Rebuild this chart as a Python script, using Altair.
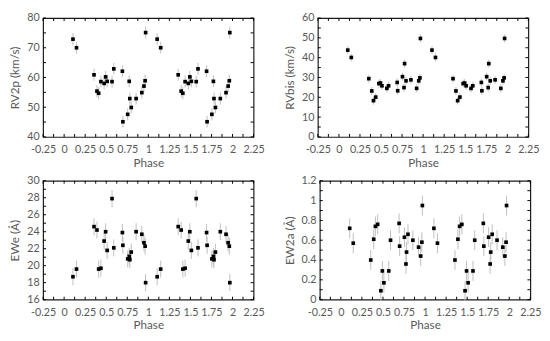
import altair as alt
import pandas as pd

# Orbital phase of each observation (first cycle); the chart repeats it over two cycles
PHASE = [0.105, 0.147, 0.355, 0.39, 0.41, 0.437, 0.475, 0.493, 0.511, 0.569, 0.59,
         0.692, 0.698, 0.755, 0.773, 0.78, 0.797, 0.855, 0.923, 0.948, 0.962, 0.968]

RV2P = [72.9, 70.0, 60.9, 55.4, 54.7, 58.6, 58.0, 60.2, 58.7, 58.6, 62.9,
        62.1, 45.1, 47.6, 58.7, 52.9, 49.9, 52.9, 54.9, 57.1, 58.9, 75.1]
RVBIS = [43.8, 40.1, 29.4, 23.2, 18.3, 20.1, 26.9, 27.2, 25.8, 24.5, 25.8,
         27.5, 23.3, 30.4, 24.9, 37.0, 28.3, 28.8, 24.5, 28.3, 29.8, 49.7]
EWE = [18.7, 19.6, 24.6, 24.2, 19.6, 19.7, 22.9, 24.0, 21.8, 27.9, 22.1,
       23.9, 22.4, 20.8, 21.1, 20.7, 21.6, 24.0, 23.7, 22.7, 22.3, 18.0]
EW2A = [0.72, 0.57, 0.40, 0.61, 0.74, 0.76, 0.09, 0.29, 0.17, 0.29, 0.60,
        0.77, 0.54, 0.63, 0.36, 0.48, 0.66, 0.60, 0.53, 0.44, 0.58, 0.95]

ERR_RV2P = 2.0
ERR_RVBIS = 2.0
ERR_EWE = 1.0
ERR_EW2A = 0.1

X_LABELS = [-0.25, 0, 0.25, 0.5, 0.75, 1, 1.25, 1.5, 1.75, 2, 2.25]
X_TICKS = [-0.25, -0.125, 0, 0.125, 0.25, 0.375, 0.5, 0.625, 0.75, 0.875, 1,
           1.125, 1.25, 1.375, 1.5, 1.625, 1.75, 1.875, 2, 2.125, 2.25]

Y_RV2P_LABELS = [40, 50, 60, 70, 80]
Y_RV2P_TICKS = [40, 45, 50, 55, 60, 65, 70, 75, 80]
Y_RVBIS_LABELS = [0, 10, 20, 30, 40, 50, 60]
Y_RVBIS_TICKS = [0, 5, 10, 15, 20, 25, 30, 35, 40, 45, 50, 55, 60]
Y_EWE_LABELS = [16, 18, 20, 22, 24, 26, 28, 30]
Y_EWE_TICKS = [16, 17, 18, 19, 20, 21, 22, 23, 24, 25, 26, 27, 28, 29, 30]
Y_EW2A_LABELS = [0, 0.2, 0.4, 0.6, 0.8, 1, 1.2]
Y_EW2A_TICKS = [0, 0.1, 0.2, 0.3, 0.4, 0.5, 0.6, 0.7, 0.8, 0.9, 1, 1.1, 1.2]

W = 216
H = 122
TL = 3  # inner tick length


def panel(vals, err, ydom, ylabels, yticks, ytitle):
    phases = PHASE + [p + 1 for p in PHASE]
    values = vals + vals
    df = pd.DataFrame({"phase": phases, "v": values})
    df["lo"] = df["v"] - err
    df["hi"] = df["v"] + err

    xs = alt.Scale(domain=[-0.25, 2.25], nice=False, zero=False)
    ys = alt.Scale(domain=ydom, nice=False, zero=False)

    xaxis = alt.Axis(values=X_LABELS, labelExpr="'' + datum.value", title="Phase",
                     ticks=False, domain=False, grid=False, labelPadding=7,
                     titlePadding=3, labelFlush=False)
    yaxis = alt.Axis(values=ylabels, labelExpr="'' + datum.value", title=ytitle,
                     ticks=False, domain=False, grid=False, labelPadding=4,
                     titlePadding=5)

    base = alt.Chart(df)
    bars = base.mark_rule(color="#bdbdbd", strokeWidth=1).encode(
        x=alt.X("phase:Q", scale=xs, axis=xaxis),
        y=alt.Y("lo:Q", scale=ys, axis=yaxis),
        y2="hi:Q",
    )
    pts = base.mark_square(size=14, color="black", opacity=1).encode(
        x=alt.X("phase:Q", scale=xs, axis=xaxis),
        y=alt.Y("v:Q", scale=ys, axis=yaxis),
    )

    xt = alt.Chart(pd.DataFrame({"t": X_TICKS}))
    yt = alt.Chart(pd.DataFrame({"t": yticks}))
    bottom = xt.mark_rule(color="black").encode(
        x=alt.X("t:Q", scale=xs, axis=xaxis), y=alt.value(H), y2=alt.value(H - TL))
    top = xt.mark_rule(color="black").encode(
        x=alt.X("t:Q", scale=xs, axis=xaxis), y=alt.value(0), y2=alt.value(TL))
    left = yt.mark_rule(color="black").encode(
        y=alt.Y("t:Q", scale=ys, axis=yaxis), x=alt.value(0), x2=alt.value(TL))
    right = yt.mark_rule(color="black").encode(
        y=alt.Y("t:Q", scale=ys, axis=yaxis), x=alt.value(W), x2=alt.value(W - TL))

    return alt.layer(bars, pts, bottom, top, left, right).properties(width=W, height=H)


p1 = panel(RV2P, ERR_RV2P, [40, 80], Y_RV2P_LABELS, Y_RV2P_TICKS, "RV2p (km/s)")
p2 = panel(RVBIS, ERR_RVBIS, [0, 60], Y_RVBIS_LABELS, Y_RVBIS_TICKS, "RVbis (km/s)")
p3 = panel(EWE, ERR_EWE, [16, 30], Y_EWE_LABELS, Y_EWE_TICKS, "EWe (Å)")
p4 = panel(EW2A, ERR_EW2A, [0, 1.2], Y_EW2A_LABELS, Y_EW2A_TICKS, "EW2a (Å)")

row1 = alt.hconcat(p1, p2, spacing=18)
row2 = alt.hconcat(p3, p4, spacing=18)

chart = alt.vconcat(row1, row2, spacing=5).properties(
    padding={"left": 0, "top": -1, "right": 0, "bottom": 0}
).configure_view(
    stroke="#1a1a1a", strokeWidth=1.2
).configure_axis(
    labelFont="Lato", labelFontSize=11, labelColor="#595959",
    titleFont="Lato", titleFontSize=12, titleFontWeight="normal", titleColor="#595959",
)

chart.save("out.html", embed_options={"renderer": "svg", "actions": False})
